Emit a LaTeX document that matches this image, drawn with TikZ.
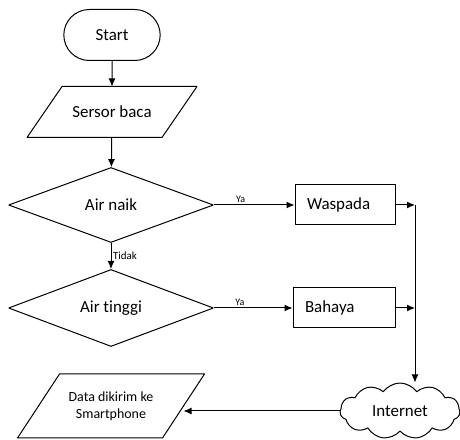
\documentclass[tikz,border=0pt]{standalone}
\usepackage{fontspec}
\setmainfont[Ligatures=NoCommon]{Carlito}
\usetikzlibrary{arrows.meta,shapes.geometric,shapes.misc,shapes.symbols}
\tikzset{
  terminal/.style={draw,rounded rectangle,minimum width=103bp,minimum height=51bp,font=\fontsize{17}{19}\selectfont},
  iobox/.style={rectangle,inner sep=0pt,font=\fontsize{17}{19}\selectfont},
  decision/.style={draw,diamond,minimum width=205bp,minimum height=75bp,inner sep=0pt,font=\fontsize{17}{19}\selectfont},
  process/.style={draw,rectangle,text width=76bp,align=left,inner xsep=12bp,minimum height=40bp,font=\fontsize{17}{19}\selectfont},
  netcloud/.style={draw,cloud,cloud puffs=11,cloud puff arc=110,aspect=2.2,minimum width=120bp,minimum height=56bp,font=\fontsize{17}{19}\selectfont},
  edgelabel/.style={font=\fontsize{10}{12}\selectfont,inner sep=1.5bp},
}
\newcommand{\slantbox}[2]{% node name, half slant
  \draw ([xshift=#2]#1.north west) -- ([xshift=#2]#1.north east)
    -- ([xshift=-#2]#1.south east) -- ([xshift=-#2]#1.south west) -- cycle;}
\begin{document}
\begin{tikzpicture}[>={Latex[length=8bp,width=7bp]},line width=1bp,line join=bevel]
\useasboundingbox (0bp,0bp) rectangle (460bp,440bp);
%%
\node (start) at (112bp,405bp) [terminal] {Start};
  \node (sensor) at (112bp,328bp) [iobox,minimum width=134bp,minimum height=50bp] {Sersor baca};
  \node (naik) at (111bp,235bp) [decision] {Air naik};
  \node (tinggi) at (111bp,132bp) [decision,minimum height=77bp] {Air tinggi};
  \node (waspada) at (345bp,235bp) [process] {Waspada};
  \node (bahaya) at (344bp,132bp) [process,text width=78bp] {Bahaya};
  \node (inet) at (400bp,29bp) [netcloud] {Internet};
  \node (kirim) at (111bp,34bp) [iobox,minimum width=144bp,minimum height=63bp,align=center,font=\fontsize{14}{17}\selectfont] {Data dikirim ke\\Smartphone};
  \coordinate (j_1) at (415bp,235bp);
  \coordinate (j_2) at (415bp,132bp);
  \slantbox{sensor}{17.5bp}
  \slantbox{kirim}{21bp}
%
  \draw [black,->] (start) -- (sensor);
  \draw [black,->] (sensor) -- (naik);
  \draw [black,->] (naik) -- node [edgelabel,right,font=\fontsize{11}{13}\selectfont] {Tidak} (tinggi);
  \draw [black,->] (naik.east) -- node [edgelabel,above,pos=0.33] {Ya} (waspada.west);
  \draw [black,->] (tinggi.east) -- node [edgelabel,above,pos=0.33] {Ya} (bahaya.west);
  \draw [black,->] (waspada.east) -- (j_1);
  \draw [black,->] (bahaya.east) -- (j_2);
  \draw [black,->] (j_1) -- (j_1 |- inet.north);
  \draw [black,->] (inet.west) -- (inet.west -| kirim.east);
%
\end{tikzpicture}
\end{document}
